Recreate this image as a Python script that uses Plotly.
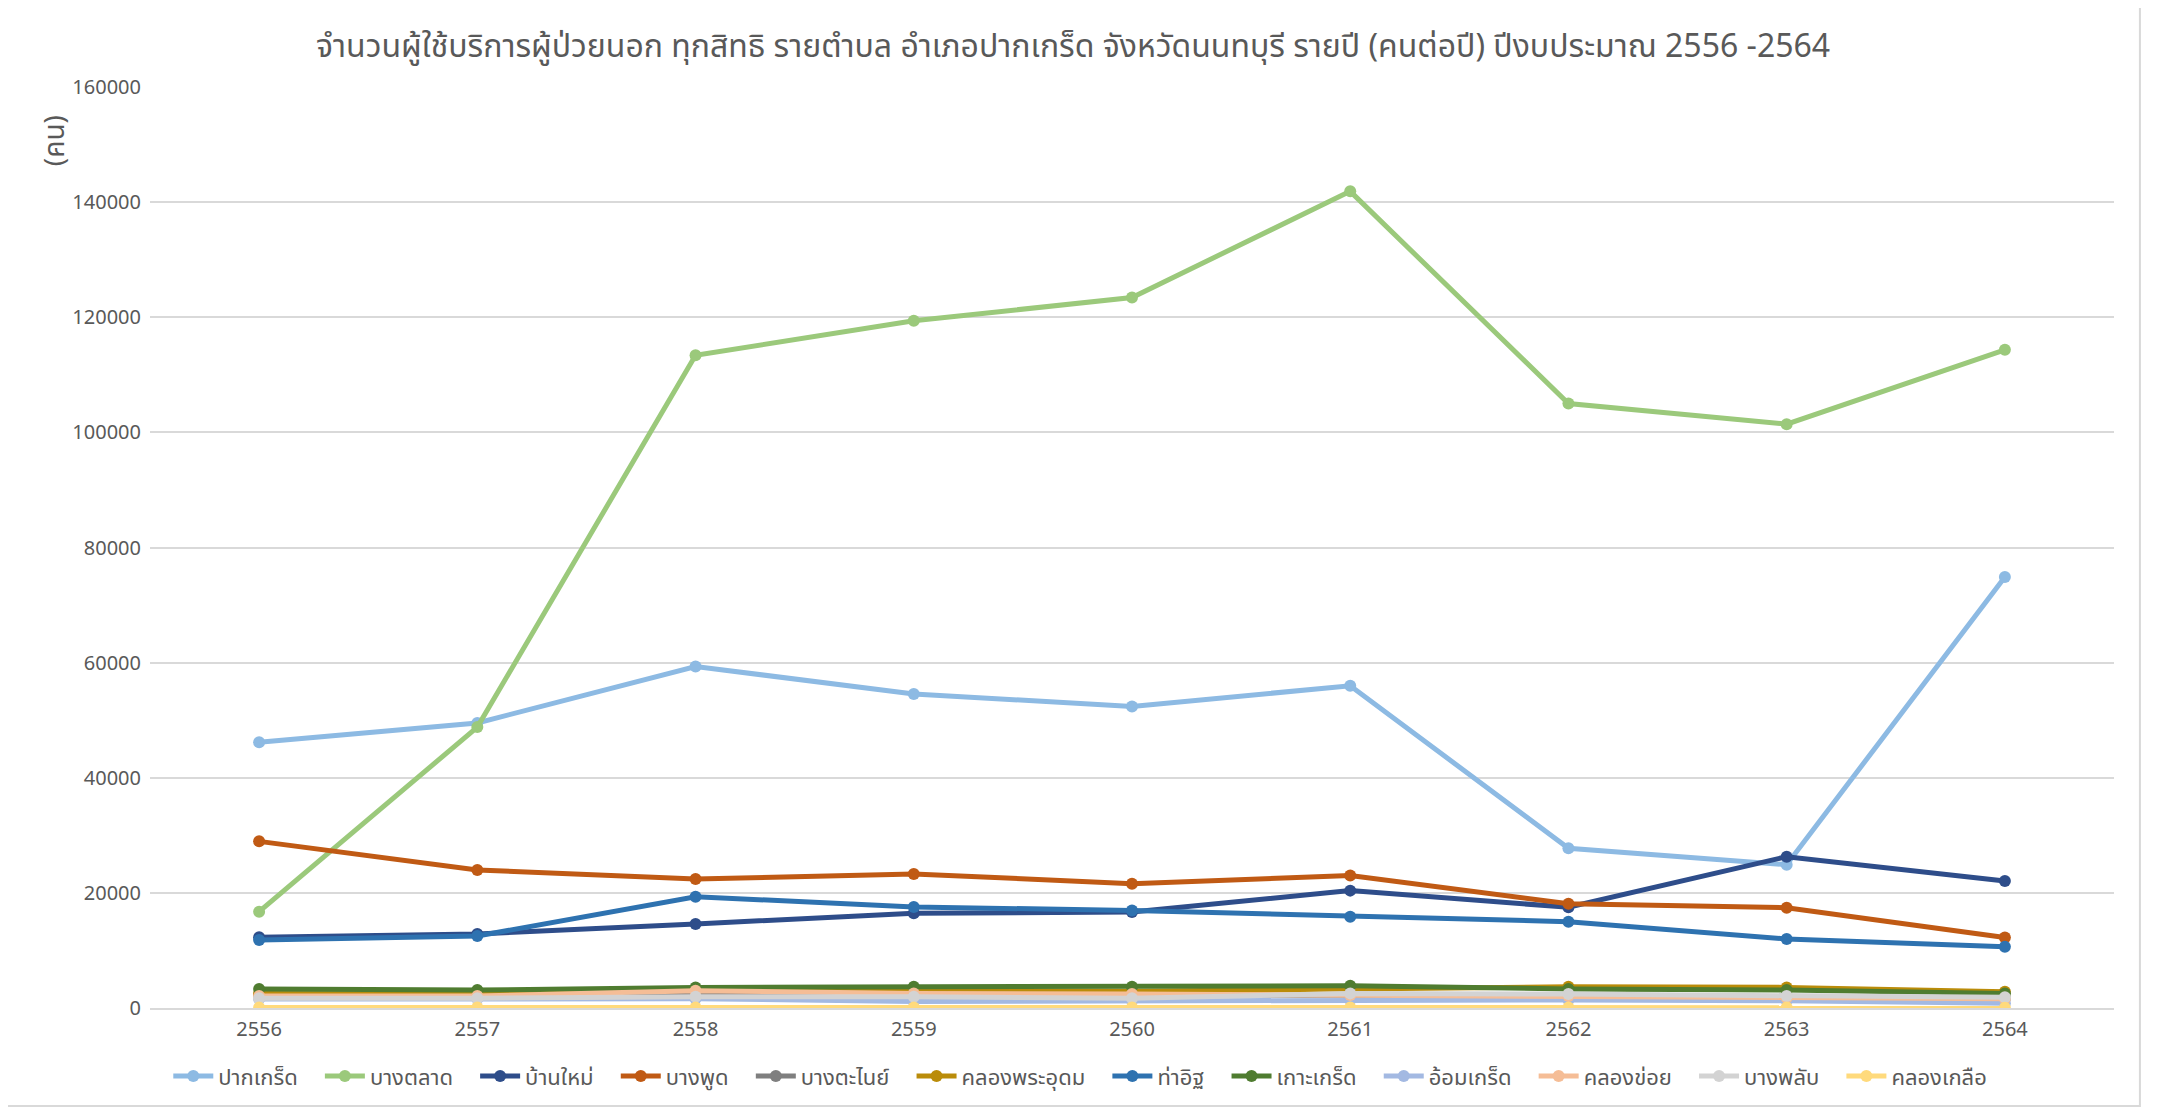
import plotly.graph_objects as go

years = ["2556", "2557", "2558", "2559", "2560", "2561", "2562", "2563", "2564"]

pak_kret = [46170, 49520, 59330, 54550, 52390, 55980, 27750, 24900, 74880]
bang_talat = [16740, 48800, 113400, 119380, 123440, 141870, 105020, 101430, 114350]
ban_mai = [12280, 12860, 14600, 16450, 16680, 20390, 17500, 26290, 22070]
bang_phut = [28950, 23980, 22420, 23280, 21600, 23000, 18100, 17430, 12250]
bang_tanai = [2300, 2300, 2400, 2300, 2300, 2300, 2200, 1900, 1700]
khlong_phra_udom = [2500, 2450, 3100, 3000, 2900, 3300, 3700, 3580, 2830]
tha_it = [11800, 12500, 19340, 17550, 16950, 15870, 15000, 11990, 10650]
ko_kret = [3300, 3120, 3580, 3700, 3700, 3870, 3300, 3120, 2540]
om_kret = [1550, 1550, 1600, 1150, 1250, 1390, 1390, 1270, 810]
khlong_khoi = [2080, 2080, 3000, 2540, 2430, 2250, 2100, 1800, 1600]
bang_phlap = [1680, 1680, 1970, 1970, 1680, 2540, 2430, 2080, 1850]
khlong_kluea = [80, 80, 90, 90, 80, 90, 90, 70, 60]

series = [
    ("ปากเกร็ด", pak_kret, "#8DBAE3"),
    ("บางตลาด", bang_talat, "#9BC97B"),
    ("บ้านใหม่", ban_mai, "#2E4D8A"),
    ("บางพูด", bang_phut, "#C05A14"),
    ("บางตะไนย์", bang_tanai, "#7F7F7F"),
    ("คลองพระอุดม", khlong_phra_udom, "#BA8C0A"),
    ("ท่าอิฐ", tha_it, "#2E72B0"),
    ("เกาะเกร็ด", ko_kret, "#4F7C30"),
    ("อ้อมเกร็ด", om_kret, "#A3B9E2"),
    ("คลองข่อย", khlong_khoi, "#F5BD96"),
    ("บางพลับ", bang_phlap, "#D3D3D3"),
    ("คลองเกลือ", khlong_kluea, "#FFDA7C"),
]

FONT = "Tahoma, 'Noto Sans Thai', 'Leelawadee UI', 'Noto Sans', sans-serif"
PAD = "\u00a0\u00a0\u00a0"

fig = go.Figure()
for name, vals, col in series:
    fig.add_trace(go.Scatter(
        x=years, y=vals, name=name + PAD, mode="lines+markers",
        line=dict(color=col, width=5),
        marker=dict(color=col, size=12, symbol="circle"),
    ))

fig.update_layout(
    width=2158, height=1108,
    margin=dict(l=142, r=52, t=79, b=108),
    paper_bgcolor="white", plot_bgcolor="white",
    font=dict(family=FONT, color="#595959", size=20),
    title=dict(
        text="จำนวนผู้ใช้บริการผู้ป่วยนอก ทุกสิทธิ รายตำบล อำเภอปากเกร็ด จังหวัดนนทบุรี รายปี (คนต่อปี) ปีงบประมาณ 2556 -2564",
        x=0.47, xref="paper", xanchor="center", y=0.966, yanchor="middle",
        font=dict(family=FONT, size=32, color="#595959"),
    ),
    xaxis=dict(
        type="category", range=[-0.5, 8.5],
        showgrid=False, showline=True, linecolor="#D9D9D9", linewidth=1.5,
        ticks="", tickfont=dict(size=20, color="#595959"),
        ticklabelstandoff=2,
    ),
    yaxis=dict(
        range=[0, 160000], dtick=20000, tickformat="d",
        showgrid=True, gridcolor="#D9D9D9", gridwidth=1.5,
        zeroline=False, showline=False, ticks="",
        tickfont=dict(size=20, color="#595959"),
        ticklabelstandoff=8,
    ),
    legend=dict(
        orientation="h", x=0.478, xanchor="center", y=-0.074, yanchor="middle",
        font=dict(size=22, color="#595959"), traceorder="normal",
        itemwidth=40,
    ),
    showlegend=True,
)

fig.add_annotation(
    text="(คน)", textangle=-90, xref="paper", yref="paper",
    x=-0.048, y=0.942, xanchor="center", yanchor="middle", showarrow=False,
    font=dict(size=28, color="#595959", family=FONT),
)

fig.add_shape(
    type="rect", xref="paper", yref="paper",
    x0=-0.0738, x1=1.0132, y0=-0.1064, y1=1.0901,
    line=dict(color="#D9D9D9", width=2), fillcolor="rgba(0,0,0,0)", layer="below",
)

fig.write_html("out.html")
